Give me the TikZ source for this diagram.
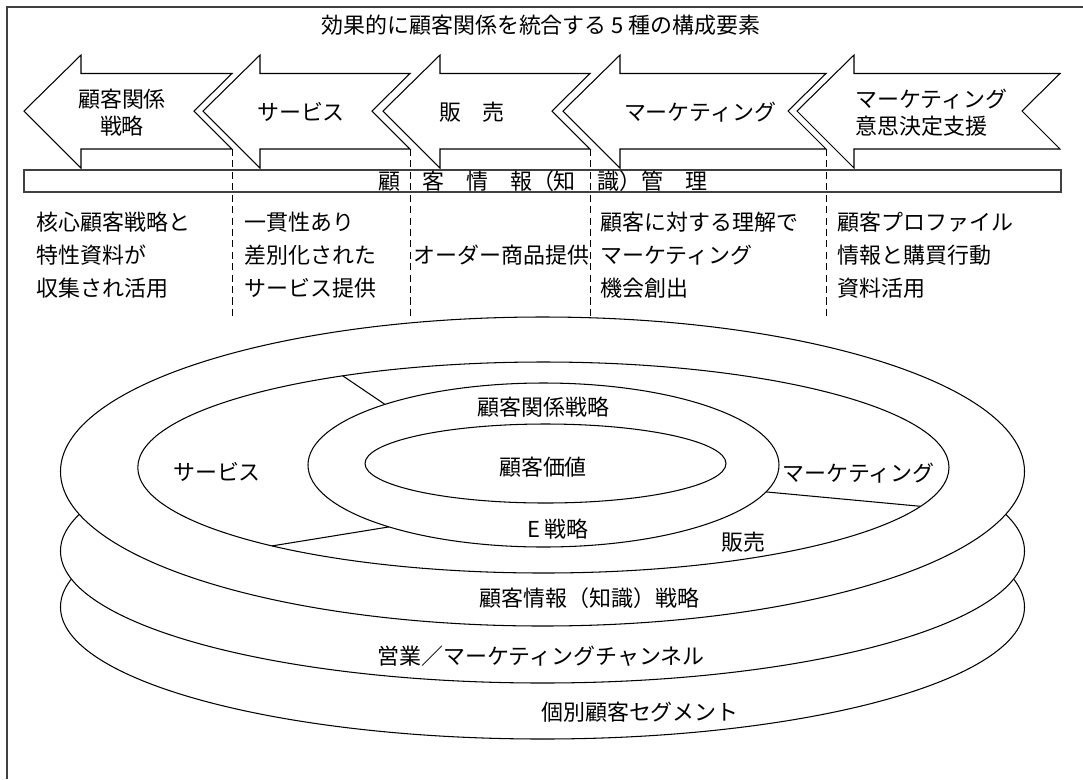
\documentclass[tikz,border=0pt]{standalone}
\usepackage{fontspec}
\setmainfont{Noto Sans CJK JP}
\usetikzlibrary{positioning}
\newcommand{\jpfont}{\fontsize{12.5}{18.8}\selectfont}
\newcommand{\jpfonttight}{\fontsize{12.5}{15.3}\selectfont}
\tikzset{
    arrowshape/.style={draw=black, line width=0.6pt, fill=white},
    disk/.style={draw=black, line width=0.6pt, fill=white},
    ring/.style={draw=black, line width=0.6pt},
    divider/.style={draw=black, line width=0.6pt},
    guide/.style={draw=black, line width=0.5pt, dash pattern=on 4pt off 2.5pt},
    band/.style={draw=black!75, line width=0.9pt},
    frame/.style={draw=black!75, line width=0.9pt},
    txt/.style={inner sep=0pt, font=\jpfont},
    arrowtxt/.style={inner sep=0pt, font=\jpfonttight},
    coltext/.style={inner sep=0pt, anchor=west, align=left, font=\jpfont},
}
% left pointing arrow with notched tail: #1 tip x, #2 tail x
\newcommand{\bigarrow}[2]{%
    \draw[arrowshape] (#1,111) -- (#1+57,55) -- (#1+57,73.5) -- (#2,73.5)
        -- (#2-38,111) -- (#2,149) -- (#1+57,149) -- (#1+57,168) -- cycle;}

\begin{document}
\begin{tikzpicture}[x=0.02cm, y=-0.02cm]
	\useasboundingbox (0,0) rectangle (1083,779);
	\draw[frame] (1083,7.2) -- (7.2,7.2) -- (7.2,779);
	\node[txt] (title) at (541,25) {効果的に顧客関係を統合する 5 種の構成要素};
%
	\bigarrow{24}{232}
	\bigarrow{203}{410}
	\bigarrow{383}{590}
	\bigarrow{563}{826}
	\bigarrow{797}{1060}
	\node[arrowtxt, align=center] (crs) at (122,113) {顧客関係\\戦略};
	\node[arrowtxt] (svc) at (301,112) {サービス};
	\node[arrowtxt] (sale) at (472,112) {販　売};
	\node[arrowtxt] (mkt) at (700,112) {マーケティング};
	\node[arrowtxt, align=left, anchor=west] (mds) at (855,113) {マーケティング\\意思決定支援};
%
	\draw[band] (24,170) rectangle (1061,192);
	\node[txt] (kim) at (543,181) {顧　客　情　報（知　識）管　理};
	\draw[guide] (232,149) -- (232,318);
	\draw[guide] (410,149) -- (410,318);
	\draw[guide] (590,149) -- (590,318);
	\draw[guide] (826,149) -- (826,318);
%
	\node[coltext] (c1) at (36,255) {核心顧客戦略と\\特性資料が\\収集され活用};
	\node[coltext] (c2) at (244,255) {一貫性あり\\差別化された\\サービス提供};
	\node[coltext] (c3) at (413,255) {オーダー商品提供};
	\node[coltext] (c4) at (600,255) {顧客に対する理解で\\マーケティング\\機会創出};
	\node[coltext] (c5) at (837,255) {顧客プロファイル\\情報と購買行動\\資料活用};
%
	\draw[disk] (542.5,607) ellipse (482 and 132);
	\draw[disk] (542.5,551) ellipse (482 and 132);
	\draw[disk] (542.5,471.5) ellipse (482 and 154.5);
	\draw[ring] (543.4,467.5) ellipse (405.6 and 105.5);
	\draw[ring] (543.5,465) ellipse (235.5 and 82);
	\draw[ring] (545.5,463.5) ellipse (180.5 and 39.5);
	\draw[divider] (342.7,375.8) -- (385,404.4);
	\draw[divider] (272,545.9) -- (389,526.9);
	\draw[divider] (766,491.9) -- (920.6,506.3);
%
	\node[txt] (rel) at (543.5,407) {顧客関係戦略};
	\node[txt] (val) at (543,467) {顧客価値};
	\node[txt] (estr) at (558,529) {E 戦略};
	\node[txt] (sales) at (743,542) {販売};
	\node[txt] (serv) at (217,472) {サービス};
	\node[txt] (mark) at (858.6,473) {マーケティング};
	\node[txt] (info) at (589.6,598) {顧客情報（知識）戦略};
	\node[txt] (chan) at (541,656) {営業／マーケティングチャンネル};
	\node[txt] (seg) at (640,712) {個別顧客セグメント};
\end{tikzpicture}
\end{document}
